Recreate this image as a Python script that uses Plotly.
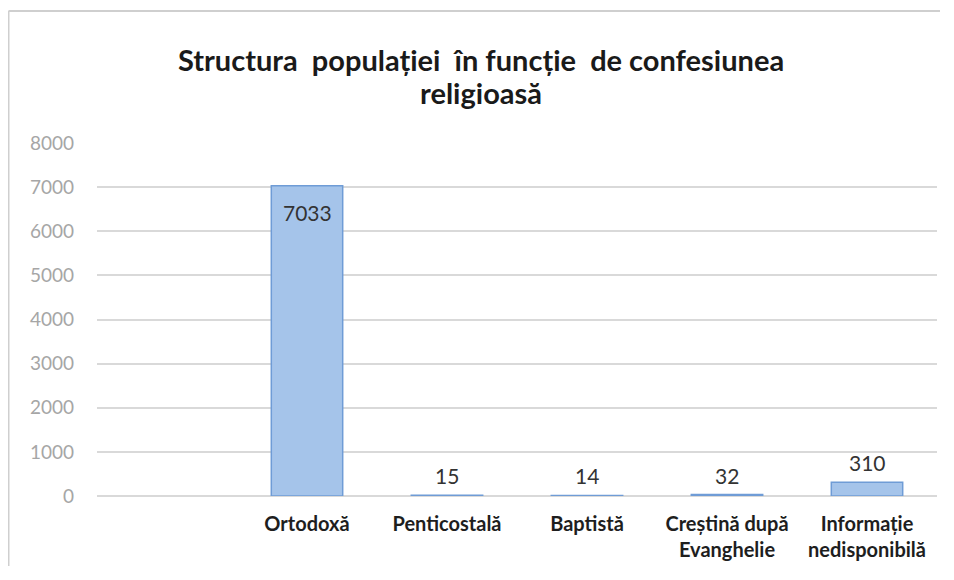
import plotly.graph_objects as go

categories = ["Ortodoxă", "Penticostală", "Baptistă", "Creștină după<br>Evanghelie", "Informație<br>nedisponibilă"]
values = [7033, 15, 14, 32, 310]
y_ticks = [0, 1000, 2000, 3000, 4000, 5000, 6000, 7000, 8000]
title_lines = ["Structura  populației  în funcție  de confesiunea", "religioasă"]

# page has 8px body margin -> figure coords = screen coords - 8
OFF = 8
W, H = 932, 558
L, R, T, B = 97 - OFF, W - (937 - OFF), 143 - OFF, H - (496 - OFF)
pw, ph = W - L - R, H - T - B

def px_x(x):
    return (x - OFF - L) / pw

def px_y(y):
    return (H - B - (y - OFF)) / ph

fig = go.Figure()
fig.add_trace(go.Bar(
    x=list(range(len(categories))),
    y=values,
    width=0.51,
    marker=dict(color="#A5C4EA", line=dict(color="#6F9CD6", width=1.5)),
    cliponaxis=False,
    hoverinfo="x+y",
))

annotations = []
for line, ys in zip(title_lines, [60, 93]):
    annotations.append(dict(
        text="<b>" + line + "</b>", xref="paper", yref="paper",
        x=px_x(481), y=px_y(ys), xanchor="center", yanchor="middle",
        showarrow=False,
        font=dict(family="Lato, Open Sans, sans-serif", size=29, color="#1a1a1a"),
    ))

for i, v in enumerate(values):
    inside = v > 1000
    annotations.append(dict(
        x=i, y=v, xref="x", yref="y",
        text=str(v), showarrow=False,
        xanchor="center", yanchor="top" if inside else "bottom",
        yshift=-12 if inside else 5,
        font=dict(family="Lato, Open Sans, sans-serif", size=21, color="#333333"),
    ))

fig.update_layout(
    width=W, height=H,
    margin=dict(l=L, r=R, t=T, b=B),
    paper_bgcolor="white", plot_bgcolor="white",
    showlegend=False,
    annotations=annotations,
    xaxis=dict(
        range=[-1.5, 4.5],
        tickmode="array",
        tickvals=list(range(len(categories))),
        ticktext=["<b>" + c.replace("<br>", "</b><br><b>") + "</b>" for c in categories],
        tickfont=dict(family="Lato, Open Sans, sans-serif", size=20, color="#1e1e1e"),
        showgrid=False, zeroline=False, showline=False, ticks="",
        ticklabelstandoff=14,
        fixedrange=True,
    ),
    yaxis=dict(
        range=[0, 8000],
        tickmode="array",
        tickvals=y_ticks,
        ticktext=[str(t) for t in y_ticks],
        tickfont=dict(family="Lato, Open Sans, sans-serif", size=19, color="#a6a6a6"),
        showgrid=True, gridcolor="#d9d9d9", gridwidth=2,
        zeroline=True, zerolinecolor="#d9d9d9", zerolinewidth=2,
        showline=False, ticks="", ticklabelstandoff=22,
        fixedrange=True,
    ),
    shapes=[
        dict(type="line", xref="paper", yref="paper",
             x0=px_x(OFF + 0.5), x1=px_x(OFF + W), y0=px_y(11), y1=px_y(11),
             line=dict(color="#cfcfcf", width=2), layer="below"),
        dict(type="line", xref="paper", yref="paper",
             x0=px_x(OFF + 0.5), x1=px_x(OFF + 0.5), y0=px_y(11), y1=px_y(OFF + H),
             line=dict(color="#cfcfcf", width=2), layer="below"),
    ],
)

fig.write_html("out.html")
